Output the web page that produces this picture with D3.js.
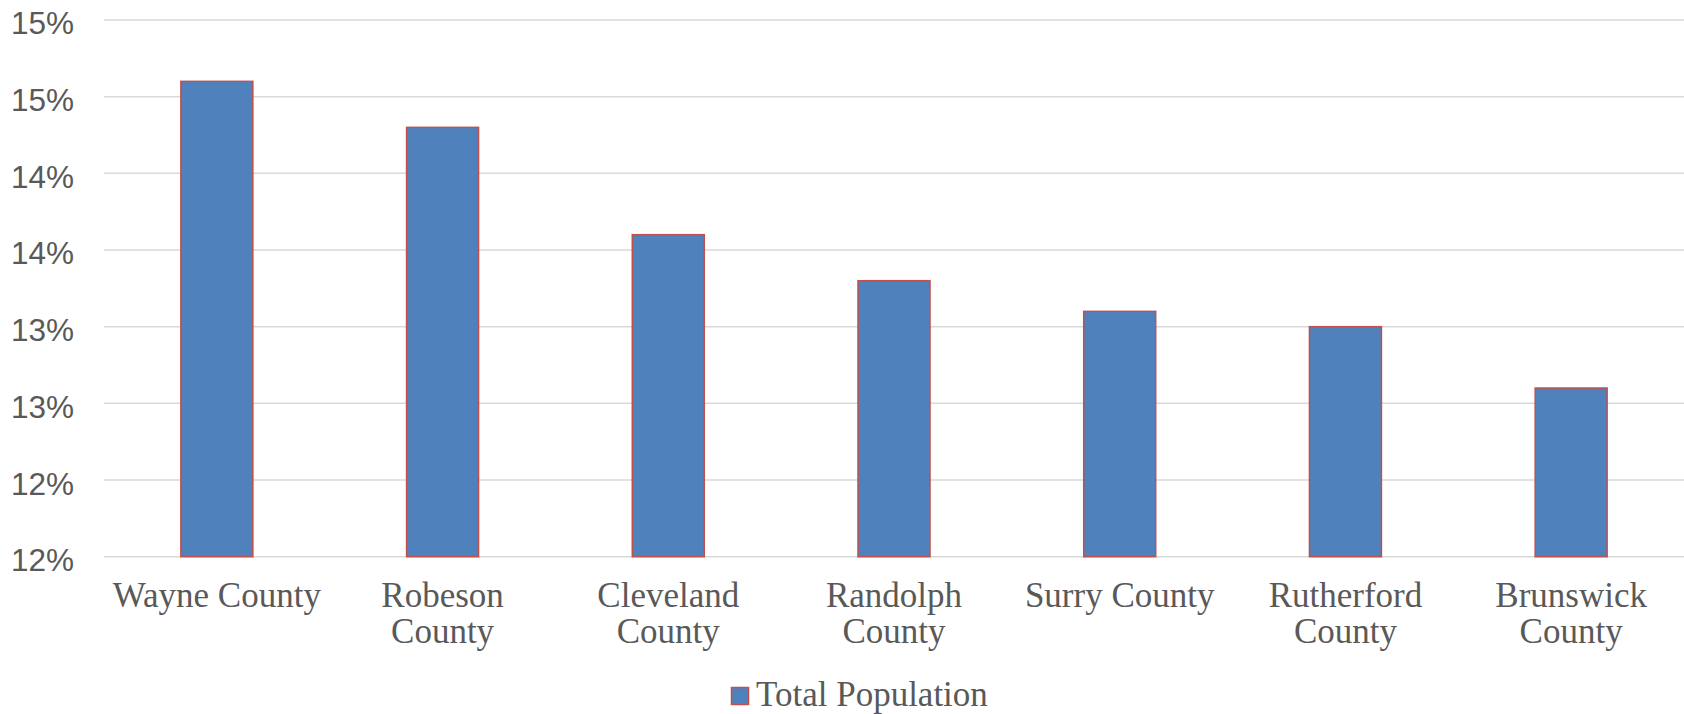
<!DOCTYPE html>
<html>
<head>
<meta charset="utf-8">
<script src="https://d3js.org/d3.v7.min.js"></script>
<style>
  html, body { margin: 0; padding: 0; background: #ffffff; }
  svg { display: block; }
</style>
</head>
<body>
<svg id="chart" width="1684" height="714"></svg>
<script>
const categories = ["Wayne County", "Robeson County", "Cleveland County", "Randolph County", "Surry County", "Rutherford County", "Brunswick County"];
const values = [14.6, 14.3, 13.6, 13.3, 13.1, 13.0, 12.6];
const tickValues = [11.5, 12, 12.5, 13, 13.5, 14, 14.5, 15];
const tickLabels = ["12%", "12%", "13%", "13%", "14%", "14%", "15%", "15%"];
const seriesName = "Total Population";

const svg = d3.select("#chart");
const plotLeft = 104, plotRight = 1684, plotTop = 20, plotBottom = 556.7;

const x = d3.scaleBand().domain(categories).range([plotLeft, plotRight]).paddingInner(0.681).paddingOuter(0.3405);
const y = d3.scaleLinear().domain([11.5, 15]).range([plotBottom, plotTop]);

// gridlines
svg.append("g").selectAll("line").data(tickValues).join("line")
  .attr("x1", plotLeft).attr("x2", plotRight)
  .attr("y1", d => y(d)).attr("y2", d => y(d))
  .attr("stroke", "#d9d9d9").attr("stroke-width", 1.5);

// y axis labels
const yAxis = d3.axisLeft(y).tickValues(tickValues)
  .tickFormat((d, i) => tickLabels[i]).tickSize(0).tickPadding(0);
const ya = svg.append("g").attr("transform", "translate(74,0)").call(yAxis);
ya.select(".domain").remove();
ya.selectAll("text")
  .attr("font-family", "'Liberation Sans', Arial, sans-serif")
  .attr("font-size", 31.5)
  .attr("fill", "#595959")
  .attr("dy", "0.38em")
  .attr("transform", "translate(0,2)");

// bars
svg.append("g").selectAll("rect").data(values).join("rect")
  .attr("x", (d, i) => x(categories[i]))
  .attr("width", x.bandwidth())
  .attr("y", d => y(d))
  .attr("height", d => y(11.5) - y(d))
  .attr("fill", "#4f81bd")
  .attr("stroke", "#c0504d")
  .attr("stroke-width", 1.5);

// x labels with wrapping
const labelFont = "'Liberation Serif', 'Times New Roman', serif";
const labelSize = 35;
const measure = svg.append("text").attr("font-family", labelFont).attr("font-size", labelSize).attr("visibility", "hidden");
function wrap(label, maxW) {
  const words = label.split(" ");
  const lines = [];
  let cur = "";
  words.forEach(w => {
    const test = cur ? cur + " " + w : w;
    measure.text(test);
    if (cur && measure.node().getComputedTextLength() > maxW) { lines.push(cur); cur = w; }
    else cur = test;
  });
  if (cur) lines.push(cur);
  return lines;
}
const xl = svg.append("g");
categories.forEach(c => {
  const lines = wrap(c, 222);
  const cx = x(c) + x.bandwidth() / 2;
  const t = xl.append("text")
    .attr("x", cx)
    .attr("y", 606.5)
    .attr("text-anchor", "middle")
    .attr("font-family", labelFont)
    .attr("font-size", labelSize)
    .attr("fill", "#595959");
  lines.forEach((ln, k) => {
    t.append("tspan").attr("x", cx).attr("dy", k === 0 ? 0 : 36).text(ln);
  });
});
measure.remove();

// legend
const lg = svg.append("g");
lg.append("rect").attr("x", 731.5).attr("y", 687.5).attr("width", 17).attr("height", 17)
  .attr("fill", "#4f81bd").attr("stroke", "#c0504d").attr("stroke-width", 1.5);
lg.append("text").attr("x", 756).attr("y", 706)
  .attr("font-family", labelFont).attr("font-size", labelSize).attr("fill", "#595959")
  .text(seriesName);
</script>
</body>
</html>
